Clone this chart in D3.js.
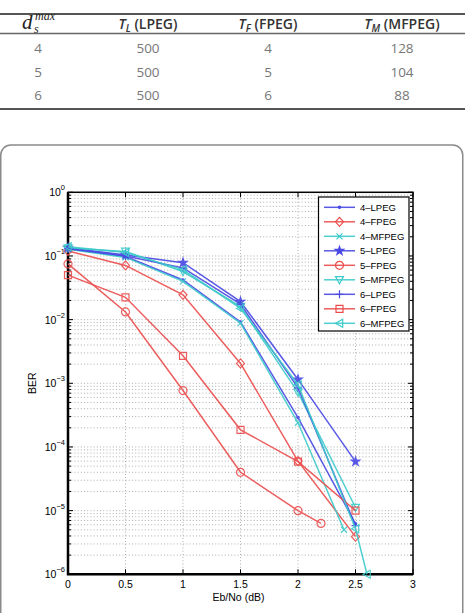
<!DOCTYPE html>
<html>
<head>
<meta charset="utf-8">
<script src="https://cdn.jsdelivr.net/npm/d3@7"></script>
<style>
  body { margin: 0; background: #fff; }
  svg { display: block; }
</style>
</head>
<body>
<div id="ber_chart"></div>
<script>
//table values
var table_ds = ["4", "5", "6"];
var table_tl = ["500", "500", "500"];
var table_tf = ["4", "5", "6"];
var table_tm = ["128", "104", "88"];

//x values (Eb/No in dB)
var snr = [0, 0.5, 1, 1.5, 2, 2.5];
var snr_4_mfpeg = [0, 0.5, 1, 1.5, 2, 2.4];
var snr_5_fpeg = [0, 0.5, 1, 1.5, 2, 2.2];
var snr_6_mfpeg = [0, 0.5, 1, 1.5, 2, 2.5, 2.6];

//BER values
var ber_4_lpeg = [0.13, 0.098, 0.042, 0.0092, 2.9e-4, 6.2e-6];
var ber_4_fpeg = [0.12, 0.071, 0.0245, 2.05e-3, 6.0e-5, 3.9e-6];
var ber_4_mfpeg = [0.128, 0.095, 0.04, 0.0088, 2.4e-4, 5.0e-6];
var ber_5_lpeg = [0.135, 0.104, 0.0785, 0.0192, 1.15e-3, 5.9e-5];
var ber_5_fpeg = [0.075, 0.0132, 7.7e-4, 4.0e-5, 1.0e-5, 6.3e-6];
var ber_5_mfpeg = [0.133, 0.118, 0.057, 0.016, 7.2e-4, 1.12e-5];
var ber_6_lpeg = [0.13, 0.1, 0.065, 0.0175, 8.5e-4, 5.8e-6];
var ber_6_fpeg = [0.05, 0.0224, 2.7e-3, 1.86e-4, 5.9e-5, 1.0e-5];
var ber_6_mfpeg = [0.14, 0.113, 0.061, 0.015, 9.5e-4, 5.2e-6, 1.0e-6];

var x_ticks = [0, 0.5, 1, 1.5, 2, 2.5, 3];
var y_exps = [0, -1, -2, -3, -4, -5, -6];

//colors (matlab b / r / c, a bit washed out)
var c_blue = '#4848e4', c_red = '#ec4c4c', c_cyan = '#3ccaca';

var series = [
  {name: '4\u2013LPEG', x: snr, y: ber_4_lpeg, color: c_blue, marker: 'dot'},
  {name: '4\u2013FPEG', x: snr, y: ber_4_fpeg, color: c_red, marker: 'diamond'},
  {name: '4\u2013MFPEG', x: snr_4_mfpeg, y: ber_4_mfpeg, color: c_cyan, marker: 'x'},
  {name: '5\u2013LPEG', x: snr, y: ber_5_lpeg, color: c_blue, marker: 'star'},
  {name: '5\u2013FPEG', x: snr_5_fpeg, y: ber_5_fpeg, color: c_red, marker: 'circle'},
  {name: '5\u2013MFPEG', x: snr, y: ber_5_mfpeg, color: c_cyan, marker: 'tridown'},
  {name: '6\u2013LPEG', x: snr, y: ber_6_lpeg, color: c_blue, marker: 'plus'},
  {name: '6\u2013FPEG', x: snr, y: ber_6_fpeg, color: c_red, marker: 'square'},
  {name: '6\u2013MFPEG', x: snr_6_mfpeg, y: ber_6_mfpeg, color: c_cyan, marker: 'trileft'}
];

var W = 467, H = 613;

var svg = d3.select('#ber_chart')
  .append('svg')
  .attr('width', W)
  .attr('height', H);

//---------- table ----------
var col_x = [38, 148, 268, 402];
var table = svg.append('g').style('font-family', '"Open Sans", sans-serif');

table.append('line').attr('x1', 0).attr('x2', 465).attr('y1', 14).attr('y2', 14)
  .attr('stroke', '#555').attr('stroke-width', 2);
table.append('line').attr('x1', 0).attr('x2', 465).attr('y1', 33.5).attr('y2', 33.5)
  .attr('stroke', '#666').attr('stroke-width', 1.5);
table.append('line').attr('x1', 0).attr('x2', 465).attr('y1', 109).attr('y2', 109)
  .attr('stroke', '#555').attr('stroke-width', 2);

//first header cell: d_s^max
var h0 = table.append('text')
  .attr('x', col_x[0] - 16).attr('y', 29)
  .style('font-family', '"Liberation Serif", serif')
  .style('font-style', 'italic')
  .attr('fill', '#222');
h0.append('tspan').style('font-size', '21px').text('d');
h0.append('tspan').attr('x', col_x[0] - 3).attr('y', 20).style('font-size', '12px').text('max');
h0.append('tspan').attr('x', col_x[0] - 4).attr('y', 33).style('font-size', '12px').text('s');

var heads = [
  {x: col_x[1], sub: 'L', rest: ' (LPEG)'},
  {x: col_x[2], sub: 'F', rest: ' (FPEG)'},
  {x: col_x[3], sub: 'M', rest: ' (MFPEG)'}
];
heads.forEach(function(h) {
  var t = table.append('text')
    .attr('x', h.x).attr('y', 29)
    .attr('text-anchor', 'middle')
    .attr('fill', '#333')
    .style('font-size', '14px')
    .style('font-weight', '600');
  t.append('tspan').style('font-style', 'italic').text('T');
  t.append('tspan').attr('dy', 3).style('font-size', '10px').style('font-style', 'italic').text(h.sub);
  t.append('tspan').attr('dy', -3).text(h.rest);
});

var row_y = [53, 76.5, 100];
[table_ds, table_tl, table_tf, table_tm].forEach(function(col, ci) {
  col.forEach(function(v, ri) {
    table.append('text')
      .attr('x', col_x[ci]).attr('y', row_y[ri])
      .attr('text-anchor', 'middle')
      .attr('fill', '#777')
      .style('font-size', '13.5px')
      .text(v);
  });
});

//---------- figure panel ----------
svg.append('rect')
  .attr('x', 0.75).attr('y', 145)
  .attr('width', 462).attr('height', 490)
  .attr('rx', 10).attr('ry', 10)
  .attr('fill', 'none')
  .attr('stroke', '#8a8a8a')
  .attr('stroke-width', 1.5);

var px0 = 68, px1 = 413, py0 = 192.3, py1 = 574.3;

var x = d3.scaleLinear().domain([0, 3]).range([px0, px1]);
var y = d3.scaleLog().domain([1e-6, 1]).range([py1, py0]);

var plot = svg.append('g').style('font-family', '"Liberation Sans", Arial, sans-serif');

//grid (dotted, major + log minor)
var grid = plot.append('g')
  .attr('stroke', '#9a9a9a')
  .attr('stroke-width', 0.8)
  .attr('stroke-dasharray', '1,2.2');

var y_grid = [];
for (var e = -6; e < 0; e++) {
  for (var m = 1; m < 10; m++) y_grid.push(m * Math.pow(10, e));
}
y_grid.push(1);

grid.selectAll('.hg').data(y_grid).enter().append('line')
  .attr('x1', px0).attr('x2', px1)
  .attr('y1', function(d) { return y(d); })
  .attr('y2', function(d) { return y(d); });
grid.selectAll('.vg').data(x_ticks.slice(1, -1)).enter().append('line')
  .attr('y1', py0).attr('y2', py1)
  .attr('x1', function(d) { return x(d); })
  .attr('x2', function(d) { return x(d); });

//ticks inward on all four sides
var ticks = plot.append('g').attr('stroke', '#000').attr('stroke-width', 1);
x_ticks.forEach(function(t) {
  ticks.append('line').attr('x1', x(t)).attr('x2', x(t)).attr('y1', py1).attr('y2', py1 - 5);
  ticks.append('line').attr('x1', x(t)).attr('x2', x(t)).attr('y1', py0).attr('y2', py0 + 5);
});
y_grid.forEach(function(v) {
  var major = Math.abs(Math.log10(v) - Math.round(Math.log10(v))) < 1e-9;
  var len = major ? 5 : 3;
  ticks.append('line').attr('x1', px0).attr('x2', px0 + len).attr('y1', y(v)).attr('y2', y(v));
  ticks.append('line').attr('x1', px1).attr('x2', px1 - len).attr('y1', y(v)).attr('y2', y(v));
});

//box
plot.append('rect')
  .attr('x', px0).attr('y', py0)
  .attr('width', px1 - px0).attr('height', py1 - py0)
  .attr('fill', 'none').attr('stroke', '#000').attr('stroke-width', 1.5);
plot.append('path')
  .attr('d', 'M' + px0 + ',' + py0 + 'V' + py1 + 'H' + px1)
  .attr('fill', 'none').attr('stroke', '#000').attr('stroke-width', 2.5);

//tick labels
plot.selectAll('.xl').data(x_ticks).enter().append('text')
  .attr('x', function(d) { return x(d); })
  .attr('y', py1 + 14)
  .attr('text-anchor', 'middle')
  .style('font-size', '10.5px')
  .text(function(d) { return d3.format('')(d); });

y_exps.forEach(function(ex) {
  var t = plot.append('text')
    .attr('class', 'yl')
    .attr('x', px0 - 21).attr('y', y(Math.pow(10, ex)) + 4)
    .style('font-size', '10.5px');
  t.append('tspan').text('10');
  t.append('tspan').attr('dy', -6).style('font-size', '7.5px')
    .text(ex === 0 ? '0' : '\u2212' + Math.abs(ex));
});
//shift labels so they end just before the axis
plot.selectAll('.yl').each(function() {
  var bb = this.getBBox();
  d3.select(this).attr('x', px0 - 3 - bb.width);
});

plot.append('text')
  .attr('x', (px0 + px1) / 2 - 2).attr('y', py1 + 27)
  .attr('text-anchor', 'middle')
  .style('font-size', '10.5px')
  .text('Eb/No (dB)');
plot.append('text')
  .attr('transform', 'translate(36,' + ((py0 + py1) / 2) + ') rotate(-90)')
  .attr('text-anchor', 'middle')
  .style('font-size', '10.5px')
  .text('BER');

//marker shapes
function markerPath(type) {
  var r = 4;
  switch (type) {
    case 'dot': return 'M-1.2,0a1.2,1.2 0 1,0 2.4,0a1.2,1.2 0 1,0 -2.4,0';
    case 'diamond': return 'M0,-4.5L4,0L0,4.5L-4,0Z';
    case 'x': return 'M-3,-3L3,3M-3,3L3,-3';
    case 'star': return d3.symbol(d3.symbolStar).size(22)();
    case 'circle': return 'M-' + r + ',0a' + r + ',' + r + ' 0 1,0 ' + 2 * r + ',0a' + r + ',' + r + ' 0 1,0 -' + 2 * r + ',0';
    case 'tridown': return 'M-4,-3.2L4,-3.2L0,4Z';
    case 'plus': return 'M-4,0H4M0,-4V4';
    case 'square': return 'M-3.5,-3.5H3.5V3.5H-3.5Z';
    case 'trileft': return 'M-4,0L3.2,-4L3.2,4Z';
  }
}

var line = d3.line()
  .x(function(d) { return x(d[0]); })
  .y(function(d) { return y(d[1]); });

var lines = plot.append('g');
series.forEach(function(s) {
  var pts = s.x.map(function(v, i) { return [v, s.y[i]]; });
  var g = lines.append('g').attr('opacity', 0.9);
  g.append('path')
    .attr('d', line(pts))
    .attr('fill', 'none')
    .attr('stroke', s.color)
    .attr('stroke-width', 1.5);
  g.selectAll('.m').data(pts).enter().append('path')
    .attr('transform', function(d) { return 'translate(' + x(d[0]) + ',' + y(d[1]) + ')'; })
    .attr('d', markerPath(s.marker))
    .attr('fill', s.marker === 'dot' || s.marker === 'star' ? s.color : 'none')
    .attr('stroke', s.color)
    .attr('stroke-width', 1.2);
});

//legend
var lg_x = 318.5, lg_y = 197, lg_w = 90.5, lg_h = 134;
var legend = plot.append('g');
legend.append('rect')
  .attr('x', lg_x).attr('y', lg_y).attr('width', lg_w).attr('height', lg_h)
  .attr('fill', '#fff').attr('stroke', '#000').attr('stroke-width', 1.2);

var entry = legend.selectAll('.le').data(series).enter().append('g')
  .attr('transform', function(d, i) { return 'translate(0,' + (207.3 + i * 14.5) + ')'; });
entry.append('line')
  .attr('x1', 324).attr('x2', 355).attr('y1', 0).attr('y2', 0)
  .attr('stroke', function(d) { return d.color; })
  .attr('stroke-width', 1.5).attr('opacity', 0.9);
entry.append('path')
  .attr('transform', 'translate(339.5,0)')
  .attr('d', function(d) { return markerPath(d.marker); })
  .attr('fill', function(d) { return d.marker === 'dot' || d.marker === 'star' ? d.color : 'none'; })
  .attr('stroke', function(d) { return d.color; })
  .attr('stroke-width', 1.2);
entry.append('text')
  .attr('x', 360).attr('y', 3.5)
  .style('font-size', '9.5px')
  .text(function(d) { return d.name; });
</script>
</body>
</html>
